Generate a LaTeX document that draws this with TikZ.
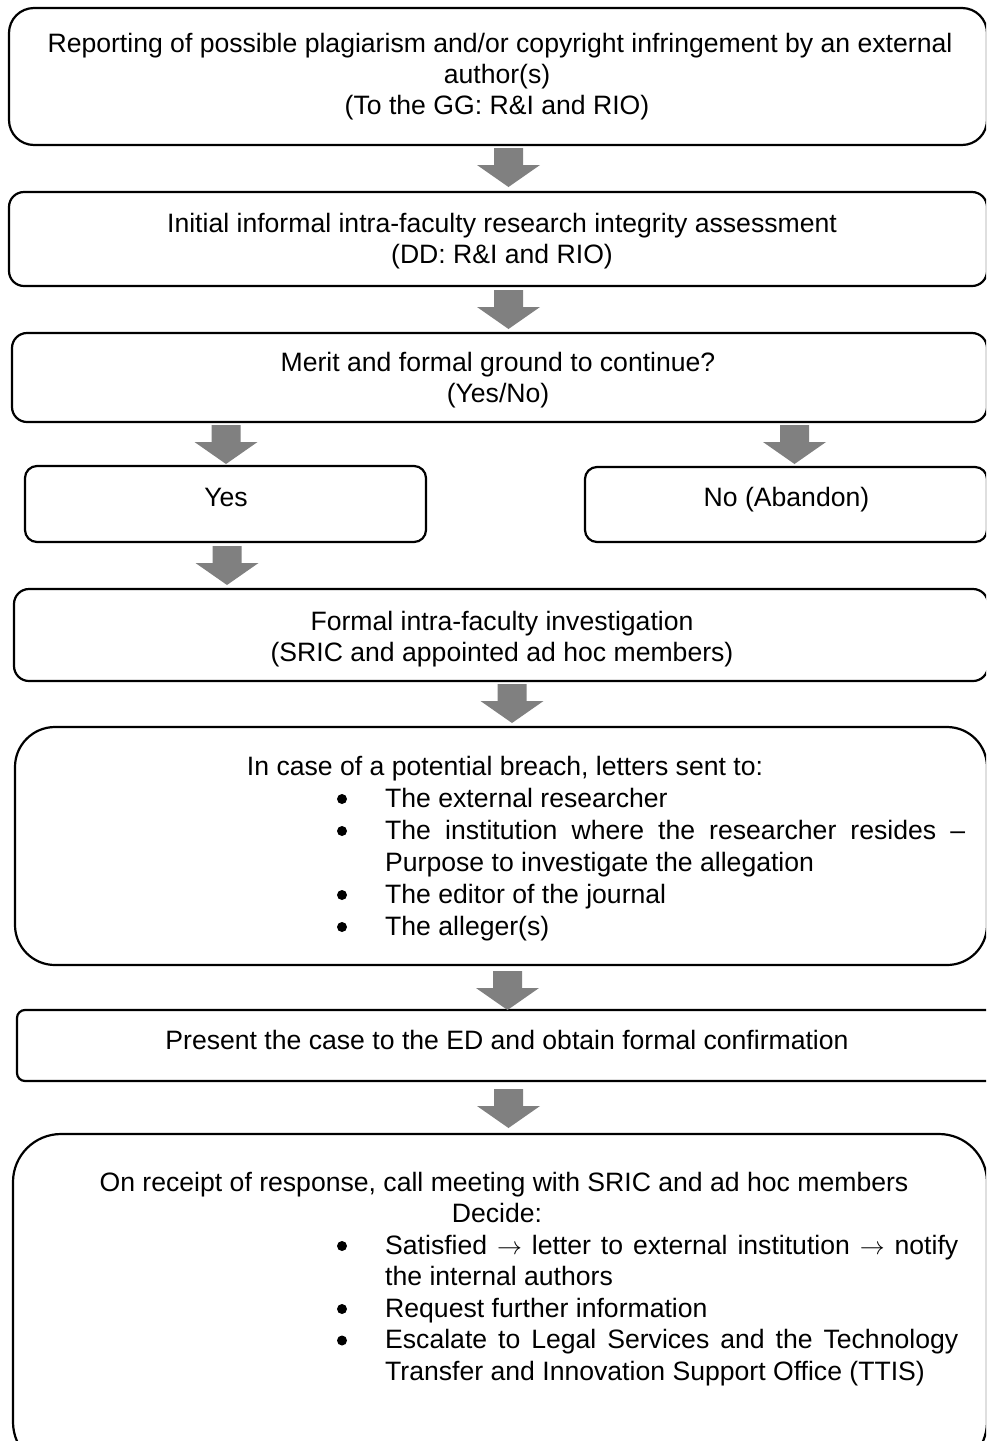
\documentclass[tikz,border=0pt]{standalone}
\usepackage{fontspec}
\setmainfont{Liberation Sans}
\definecolor{arrowgray}{RGB}{128,128,128}
\tikzset{
  box/.style={draw=black, line width=2.2pt, fill=white, inner sep=0pt},
  txt/.style={font=\fontsize{26.6pt}{31pt}\selectfont, inner sep=0pt, anchor=base},
  ltxt/.style={txt, anchor=base west},
  blt/.style={circle, fill=black, inner sep=0pt, minimum size=10pt},
  blockarrow/.pic={\fill[arrowgray] (-14.5,0) -- (14.5,0) -- (14.5,17) -- (31.5,17) -- (0,39) -- (-31.5,17) -- (-14.5,17) -- cycle;}
}
\begin{document}
\begin{tikzpicture}[x=1pt,y=-1pt]
\useasboundingbox (0,0) rectangle (986,1441);
\clip (0,0) rectangle (986,1441);
\fill[white] (0,0) rectangle (986,1441);
% boxes
\node[box, rounded corners=25pt, minimum width=978pt, minimum height=137pt] (b1) at (498,76.5) {};
\node[box, rounded corners=15pt, minimum width=978pt, minimum height=94pt] (b2) at (498,239) {};
\node[box, rounded corners=15pt, minimum width=975pt, minimum height=89pt] (b3) at (499.5,377.5) {};
\node[box, rounded corners=12pt, minimum width=401pt, minimum height=76pt] (yes) at (225.5,504) {};
\node[box, rounded corners=12pt, minimum width=402pt, minimum height=75pt] (no) at (786,504.5) {};
\node[box, rounded corners=15pt, minimum width=974pt, minimum height=92pt] (b4) at (501,635) {};
\node[box, rounded corners=40pt, minimum width=972pt, minimum height=238pt] (b5) at (501,846) {};
\node[box, rounded corners=8pt, minimum width=978pt, minimum height=71pt] (b6) at (506,1045.5) {};
\node[box, rounded corners=48pt, minimum width=974pt, minimum height=336pt] (b7) at (500,1302) {};
% block arrows
\pic (a1) at (508.5,148) {blockarrow};
\pic (a2) at (508.5,290) {blockarrow};
\pic (a3) at (226,425) {blockarrow};
\pic (a4) at (794.5,425) {blockarrow};
\pic (a5) at (227,546) {blockarrow};
\pic (a6) at (512,684) {blockarrow};
\pic (a7) at (507.5,971) {blockarrow};
\pic (a8) at (508.5,1089) {blockarrow};
% texts
\node[txt] (t1a) at (500,52) {Reporting of possible plagiarism and/or copyright infringement by an external};
\node[txt] (t1b) at (497,83) {author(s)};
\node[txt] (t1c) at (497,114) {(To the GG: R\&I and RIO)};
\node[txt] (t2a) at (502,232) {Initial informal intra-faculty research integrity assessment};
\node[txt] (t2b) at (502,263) {(DD: R\&I and RIO)};
\node[txt] (t3a) at (498,371) {Merit and formal ground to continue?};
\node[txt] (t3b) at (498,402) {(Yes/No)};
\node[txt] (tyes) at (226,506) {Yes};
\node[txt] (tno) at (786.5,506) {No (Abandon)};
\node[txt] (t4a) at (502,630) {Formal intra-faculty investigation};
\node[txt] (t4b) at (502,661) {(SRIC and appointed ad hoc members)};
\node[txt] (t5a) at (505,775) {In case of a potential breach, letters sent to:};
\node[blt] (u1) at (342,799) {};
\node[ltxt] (t5b) at (385,807) {The external researcher};
\node[blt] (u2) at (342,831) {};
\node[ltxt] (t5c) at (385,839) {\makebox[580pt][s]{The institution where the researcher resides –}};
\node[ltxt] (t5d) at (385,871) {Purpose to investigate the allegation};
\node[blt] (u3) at (342,895) {};
\node[ltxt] (t5e) at (385,903) {The editor of the journal};
\node[blt] (u4) at (342,927) {};
\node[ltxt] (t5f) at (385,935) {The alleger(s)};
\node[txt] (t6) at (507,1049) {Present the case to the ED and obtain formal confirmation};
\node[txt] (t7a) at (504,1191) {On receipt of response, call meeting with SRIC and ad hoc members};
\node[txt] (t7b) at (497,1222) {Decide:};
\node[blt] (v1) at (342,1246) {};
\node[ltxt] (t7c) at (385,1254) {\makebox[573pt][s]{Satisfied $\rightarrow$ letter to external institution $\rightarrow$ notify}};
\node[ltxt] (t7d) at (385,1285.5) {the internal authors};
\node[blt] (v2) at (342,1309) {};
\node[ltxt] (t7e) at (385,1317) {Request further information};
\node[blt] (v3) at (342,1340.5) {};
\node[ltxt] (t7f) at (385,1348.5) {\makebox[573pt][s]{Escalate to Legal Services and the Technology}};
\node[ltxt] (t7g) at (385,1380) {Transfer and Innovation Support Office (TTIS)};
\end{tikzpicture}
\end{document}
